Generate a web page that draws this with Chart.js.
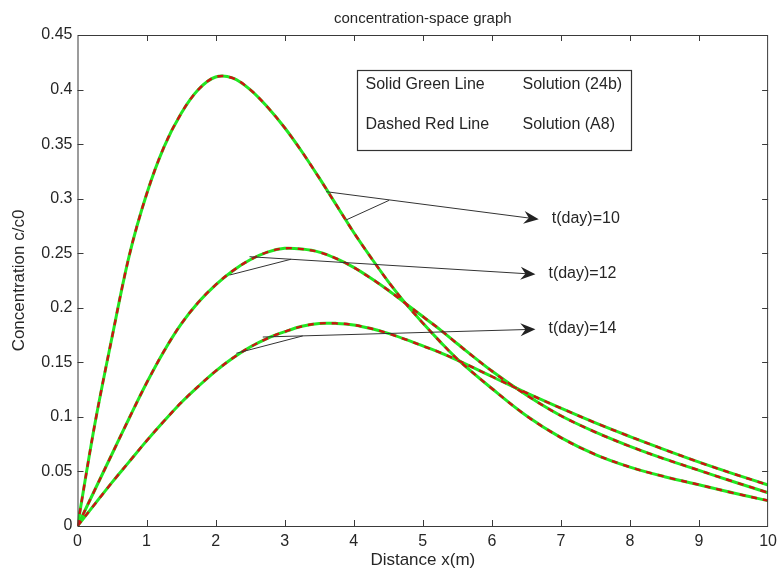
<!DOCTYPE html>
<html>
<head>
<meta charset="utf-8">
<script src="https://cdn.jsdelivr.net/npm/chart.js@4.4.1/dist/chart.umd.min.js"></script>
<style>
  html, body { margin: 0; padding: 0; background: #fff; }
  #chart { display: block; }
</style>
</head>
<body>
<canvas id="chart" width="783" height="572"></canvas>
<script>
// values
const distance = [0, 0.25, 0.5, 0.75, 1, 1.25, 1.5, 1.75, 2, 2.25, 2.5, 2.75, 3, 3.25, 3.5, 3.75,
                  4, 4.25, 4.5, 4.75, 5, 5.25, 5.5, 6, 6.5, 7, 7.5, 8, 8.5, 9, 9.5, 10];
const concDay10 = [0, 0.093, 0.173, 0.248, 0.304, 0.347, 0.378, 0.400, 0.4115, 0.4105, 0.400, 0.384,
                   0.365, 0.343, 0.319, 0.294, 0.269, 0.246, 0.224, 0.204, 0.186, 0.169, 0.153,
                   0.126, 0.101, 0.081, 0.0655, 0.054, 0.0452, 0.0378, 0.0302, 0.0232];
const concDay12 = [0, 0.033, 0.066, 0.099, 0.131, 0.160, 0.185, 0.205, 0.221, 0.234, 0.244, 0.251,
                   0.2545, 0.2538, 0.251, 0.245, 0.237, 0.227, 0.216, 0.204, 0.192, 0.180, 0.167,
                   0.142, 0.120, 0.101, 0.086, 0.073, 0.0615, 0.051, 0.0406, 0.0305];
const concDay14 = [0, 0.020, 0.040, 0.059, 0.078, 0.096, 0.113, 0.128, 0.142, 0.154, 0.164, 0.172,
                   0.178, 0.183, 0.1857, 0.1857, 0.1843, 0.181, 0.1765, 0.171, 0.165, 0.159, 0.152,
                   0.137, 0.122, 0.108, 0.0945, 0.082, 0.070, 0.0585, 0.0478, 0.0376];
const seriesLabels = ['t(day)=10', 't(day)=12', 't(day)=14'];
const xTickValues = [0, 1, 2, 3, 4, 5, 6, 7, 8, 9, 10];
const yTickValues = [0, 0.05, 0.1, 0.15, 0.2, 0.25, 0.3, 0.35, 0.4, 0.45];

const FONT = "'Liberation Sans', Arial, sans-serif";
const INK = '#262626';

// annotation arrows, in data units: [fromX, fromC, tipX, tipC], plus a short
// second leader line joining the arrow
const arrowNotes = [
  { arrow: [3.599, 0.3064, 6.679, 0.2811], leader: [3.887, 0.2804, 4.513, 0.2985], label: seriesLabels[0] },
  { arrow: [2.491, 0.2468, 6.631, 0.2307], leader: [2.202, 0.2300, 3.093, 0.2445], label: seriesLabels[1] },
  { arrow: [2.683, 0.1732, 6.631, 0.1803], leader: [2.299, 0.1583, 3.261, 0.1742], label: seriesLabels[2] }
];
const noteBox = { x0: 4.04, c0: 0.4179, x1: 8.007, c1: 0.3446 };
const noteRows = [
  { c: 0.4042, left: 'Solid Green Line', right: 'Solution (24b)' },
  { c: 0.3675, left: 'Dashed Red Line', right: 'Solution (A8)' }
];

function points(ys) {
  return distance.map((x, i) => ({ x: x, y: ys[i] }));
}

const datasets = [];
[concDay10, concDay12, concDay14].forEach((ys, i) => {
  datasets.push({
    label: seriesLabels[i] + ' (A8)',
    data: points(ys),
    borderColor: '#cf1212',
    borderWidth: 2.4,
    borderDash: [6, 6],
    order: 1
  });
  datasets.push({
    label: seriesLabels[i] + ' (24b)',
    data: points(ys),
    borderColor: '#22e622',
    borderWidth: 3,
    order: 2
  });
});

function arrowHead(ctx, x1, y1, x2, y2) {
  const a = Math.atan2(y2 - y1, x2 - x1);
  ctx.save();
  ctx.translate(x2, y2);
  ctx.rotate(a);
  ctx.beginPath();
  ctx.moveTo(0, 0);
  ctx.lineTo(-15, -6.5);
  ctx.lineTo(-10, 0);
  ctx.lineTo(-15, 6.5);
  ctx.closePath();
  ctx.fill();
  ctx.restore();
}

const matlabFrame = {
  id: 'matlabFrame',
  afterDatasetsDraw(chart) {
    const { ctx, chartArea: a, scales: { x, y } } = chart;
    ctx.save();

    // box and inward ticks
    ctx.strokeStyle = '#3a3a3a';
    ctx.lineWidth = 1;
    ctx.strokeRect(a.left + 0.5, a.top + 0.5, a.right - a.left - 1, a.bottom - a.top);
    ctx.beginPath();
    xTickValues.slice(1, -1).forEach(v => {
      const px = Math.round(x.getPixelForValue(v)) + 0.5;
      ctx.moveTo(px, a.bottom); ctx.lineTo(px, a.bottom - 6);
      ctx.moveTo(px, a.top); ctx.lineTo(px, a.top + 6);
    });
    yTickValues.slice(1, -1).forEach(v => {
      const py = Math.round(y.getPixelForValue(v)) + 0.5;
      ctx.moveTo(a.left, py); ctx.lineTo(a.left + 6, py);
      ctx.moveTo(a.right, py); ctx.lineTo(a.right - 6, py);
    });
    ctx.stroke();

    // arrows with labels
    ctx.strokeStyle = '#333';
    ctx.fillStyle = '#222';
    ctx.font = '16px ' + FONT;
    ctx.textBaseline = 'middle';
    ctx.textAlign = 'left';
    arrowNotes.forEach(n => {
      const [ax0, ac0, ax1, ac1] = n.arrow;
      const p0 = [x.getPixelForValue(ax0), y.getPixelForValue(ac0)];
      const p1 = [x.getPixelForValue(ax1), y.getPixelForValue(ac1)];
      ctx.beginPath();
      ctx.moveTo(p0[0], p0[1]);
      ctx.lineTo(p1[0] - 8, p1[1] + (p0[1] - p1[1]) * 8 / (p1[0] - p0[0]));
      const [lx0, lc0, lx1, lc1] = n.leader;
      ctx.moveTo(x.getPixelForValue(lx0), y.getPixelForValue(lc0));
      ctx.lineTo(x.getPixelForValue(lx1), y.getPixelForValue(lc1));
      ctx.stroke();
      arrowHead(ctx, p0[0], p0[1], p1[0], p1[1]);
      ctx.fillStyle = INK;
      ctx.fillText(n.label, p1[0] + 13, p1[1] - 1);
      ctx.fillStyle = '#222';
    });

    // text box
    const bx0 = x.getPixelForValue(noteBox.x0), bx1 = x.getPixelForValue(noteBox.x1);
    const by0 = y.getPixelForValue(noteBox.c0), by1 = y.getPixelForValue(noteBox.c1);
    ctx.fillStyle = '#fff';
    ctx.fillRect(bx0, by0, bx1 - bx0, by1 - by0);
    ctx.strokeStyle = '#333';
    ctx.lineWidth = 1.2;
    ctx.strokeRect(Math.round(bx0) + 0.5, Math.round(by0) + 0.5, Math.round(bx1 - bx0), Math.round(by1 - by0));
    ctx.fillStyle = INK;
    noteRows.forEach(r => {
      const py = y.getPixelForValue(r.c);
      ctx.fillText(r.left, bx0 + 9, py);
      ctx.fillText(r.right, bx0 + 166, py);
    });
    ctx.restore();
  }
};

new Chart(document.getElementById('chart'), {
  type: 'line',
  data: { datasets: datasets },
  options: {
    responsive: false,
    animation: false,
    layout: { padding: { left: 0, right: 13, top: 0, bottom: 0 } },
    elements: {
      point: { radius: 0 },
      line: { tension: 0.35 }
    },
    plugins: {
      legend: { display: false },
      tooltip: { enabled: false },
      title: {
        display: true,
        fullSize: false,
        text: 'concentration-space graph',
        color: INK,
        font: { family: FONT, size: 15, weight: 'normal' },
        padding: { top: 10, bottom: 7 }
      }
    },
    scales: {
      x: {
        type: 'linear',
        min: 0,
        max: 10,
        afterBuildTicks: s => { s.ticks = xTickValues.map(v => ({ value: v })); },
        afterFit: s => { s.height = 46; },
        grid: { display: false, drawTicks: false },
        border: { display: false },
        ticks: {
          color: INK,
          padding: 6,
          maxRotation: 0,
          font: { family: FONT, size: 16 },
          callback: v => String(v)
        },
        title: {
          display: true,
          text: 'Distance x(m)',
          color: INK,
          font: { family: FONT, size: 17 },
          padding: { top: 0, bottom: 1 }
        }
      },
      y: {
        type: 'linear',
        min: 0,
        max: 0.45,
        afterBuildTicks: s => { s.ticks = yTickValues.map(v => ({ value: v })); },
        afterFit: s => { s.width = 77.5; },
        grid: { display: false, drawTicks: false },
        border: { display: false },
        ticks: {
          color: INK,
          padding: 5,
          font: { family: FONT, size: 16 },
          callback: v => String(+v.toFixed(2))
        },
        title: {
          display: true,
          text: 'Concentration c/c0',
          color: INK,
          font: { family: FONT, size: 17 },
          padding: { top: 9, bottom: 0 }
        }
      }
    }
  },
  plugins: [matlabFrame]
});
</script>
</body>
</html>
